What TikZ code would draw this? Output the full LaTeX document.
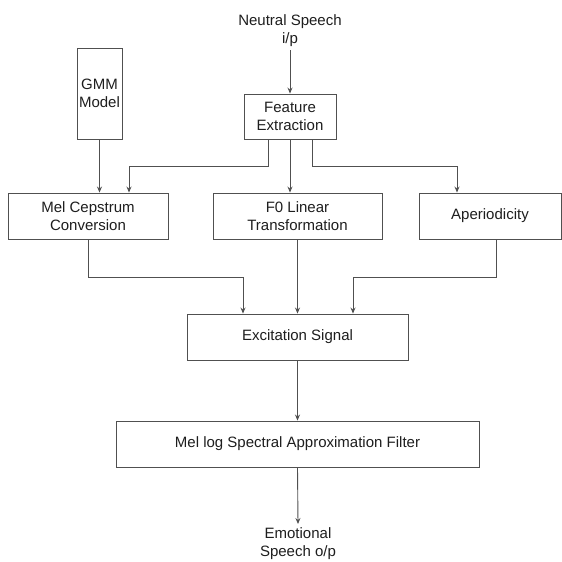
\documentclass[tikz,border=0pt]{standalone}
\usepackage{fontspec}
\setmainfont{Liberation Sans}
\usetikzlibrary{arrows.meta}
\definecolor{linecol}{HTML}{505050}
\definecolor{txtcol}{HTML}{1E1E1E}
\begin{document}
\begin{tikzpicture}[x=1pt,y=-1pt,
  box/.style={draw=linecol, line width=0.9pt, inner sep=0pt, align=center,
    text=txtcol, font=\fontsize{15}{18}\selectfont},
  lbl/.style={inner sep=0pt, align=center, text=txtcol, font=\fontsize{15}{18}\selectfont},
  arr/.style={draw=linecol, line width=0.9pt, -{Stealth[length=6pt,width=5pt]}}]
\useasboundingbox[fill=white] (0,0) rectangle (562,562);
\node[lbl] (in) at (290,31) {Neutral Speech\\i/p};
\node[box, minimum width=45pt, minimum height=91pt] (gmm) at (99.5,93.5) {GMM\\Model};
\node[box, minimum width=92pt, minimum height=45pt] (feat) at (290,116.5) {Feature\\Extraction};
\node[box, minimum width=160pt, minimum height=46pt] (mel) at (88,216) {Mel Cepstrum\\Conversion};
\node[box, minimum width=169pt, minimum height=46pt] (f0) at (297.5,216) {F0 Linear\\Transformation};
\node[box, minimum width=142pt, minimum height=46pt] (aper) at (490,216) {Aperiodicity};
\node[box, minimum width=221pt, minimum height=46pt] (exc) at (297.5,337) {Excitation Signal};
\node[box, minimum width=363pt, minimum height=46pt] (mlsa) at (297.5,444) {Mel log Spectral Approximation Filter};
\node[lbl, anchor=north] (out) at (298,527) {Emotional\\Speech o/p};

\draw[arr] ([yshift=-3pt]in.south) -- (feat.north);
\draw[arr] (gmm.south) -- (gmm.south |- mel.north);
\draw[arr] ([xshift=-22pt]feat.south) -- ++(0,27) -| ([xshift=41pt]mel.north);
\draw[arr] (feat.south) -- (feat.south |- f0.north);
\draw[arr] ([xshift=22pt]feat.south) -- ++(0,27) -| ([xshift=-33pt]aper.north);
\draw[arr] (mel.south) -- ++(0,38) -| ([xshift=-54.5pt]exc.north);
\draw[arr] (f0.south) -- (exc.north);
\draw[arr] ([xshift=6pt]aper.south) -- ++(0,38) -| ([xshift=55.5pt]exc.north);
\draw[arr] (exc.south) -- (mlsa.north);
\draw[arr] (mlsa.south) -- ([yshift=3pt]out.north);
\end{tikzpicture}
\end{document}
